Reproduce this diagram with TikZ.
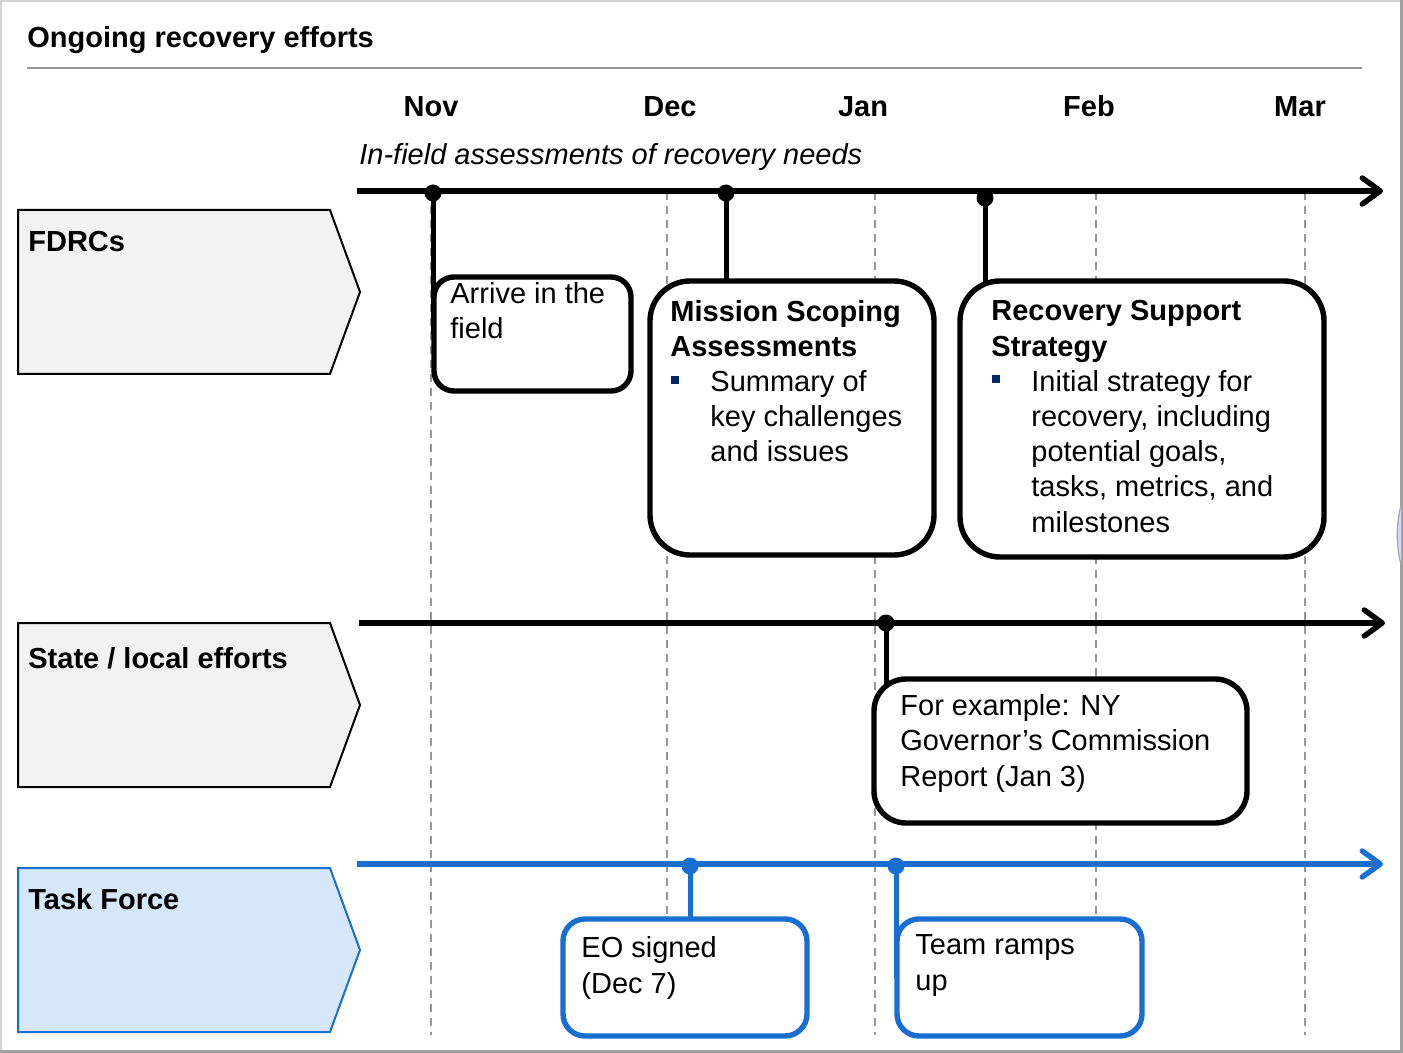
\documentclass[tikz,border=0pt]{standalone}
\usepackage{fontspec}
\setmainfont{Liberation Sans}
\usetikzlibrary{arrows.meta}
\definecolor{tfblue}{RGB}{25,110,210}
\definecolor{tflight}{RGB}{214,230,251}
\definecolor{lanegray}{RGB}{242,242,242}
\definecolor{navy}{RGB}{0,40,104}
\definecolor{gridgray}{RGB}{150,150,150}
\newcommand{\bulmark}{\makebox[20pt][l]{\hspace{0.5pt}\raisebox{4pt}{\textcolor{navy}{\rule{4pt}{4pt}}}}}
\newcommand{\bulind}{\hspace*{20pt}}
\begin{document}
\begin{tikzpicture}[x=0.5pt,y=-0.5pt,
 txt/.style={inner sep=0pt, anchor=base west, align=left, font=\fontsize{14.5pt}{17.6pt}\selectfont},
 month/.style={inner sep=0pt, anchor=base, font=\fontsize{14.5pt}{17.6pt}\selectfont\bfseries},
 lane/.style={line width=1pt, draw=black, fill=lanegray},
 tflane/.style={line width=1pt, draw=tfblue, fill=tflight},
 gridline/.style={gridgray, line width=0.8pt, dash pattern=on 4pt off 3pt},
 timeline/.style={line width=2.7pt, -{Straight Barb[length=9pt,width=13pt,round]}},
 conn/.style={line width=2.5pt},
 dot/.style={circle, fill, inner sep=0pt, minimum size=8.5pt},
 evbox/.style={draw, fill=white, line width=2.7pt, rounded corners=#1, inner sep=0pt},
 evbox/.default=10pt
]
\useasboundingbox (0,0) rectangle (1403,1053);
\fill[white] (0,0) rectangle (1403,1053);
% frame
\draw[gray!35, line width=1pt] (1,1053) -- (1,1) -- (1403,1);
\draw[gray!75, line width=1.4pt] (1401.5,0) -- (1401.5,1053);
\draw[gray!75, line width=1.4pt] (0,1051.5) -- (1403,1051.5);
\draw[gray!70, line width=0.6pt, fill={rgb,255:red,205;green,215;blue,255}] (1401,505) .. controls (1396,525) and (1396,545) .. (1401,565);

% title
\node[txt, font=\fontsize{14.5pt}{17.6pt}\selectfont\bfseries] (title) at (27,48) {Ongoing recovery efforts};
\draw[gridgray, line width=1pt] (27,68) -- (1362,68);

% months
\node[month] (nov) at (431,117) {Nov};
\node[month] (dec) at (670,117) {Dec};
\node[month] (jan) at (863,117) {Jan};
\node[month] (feb) at (1089,117) {Feb};
\node[month] (mar) at (1300,117) {Mar};
\node[txt, font=\fontsize{14.5pt}{17.6pt}\selectfont\itshape] (infield) at (359,165) {In-field assessments of recovery needs};

% grid lines
\foreach \gx in {431,667,875,1096,1305}{
  \draw[gridline] (\gx,192) -- (\gx,1035);
}

% lanes
\draw[lane] (18,210) -- (330,210) -- (360,292) -- (330,374) -- (18,374) -- cycle;
\draw[lane] (18,623) -- (330,623) -- (360,705) -- (330,787) -- (18,787) -- cycle;
\draw[tflane] (18,868) -- (330,868) -- (360,950) -- (330,1032) -- (18,1032) -- cycle;
\node[txt, font=\fontsize{14.5pt}{17.6pt}\selectfont\bfseries] (lfdrc) at (28,252) {FDRCs};
\node[txt, font=\fontsize{14.5pt}{17.6pt}\selectfont\bfseries] (lstate) at (28,668) {State / local efforts};
\node[txt, font=\fontsize{14.5pt}{17.6pt}\selectfont\bfseries] (ltf) at (28,909) {Task Force};

% timelines
\coordinate (s1) at (357,191); \coordinate (e1) at (1383,191);
\coordinate (s2) at (359,623); \coordinate (e2) at (1385,623);
\coordinate (s3) at (357,864); \coordinate (e3) at (1383,864);
\draw[timeline] (s1) -- (e1);
\draw[timeline] (s2) -- (e2);
\draw[timeline, tfblue] (s3) -- (e3);

% event boxes (positions)
\coordinate (c1) at (532.5,334);
\coordinate (c2) at (792,418);
\coordinate (c3) at (1142,419);
\coordinate (c4) at (1060.5,751);
\coordinate (c5) at (685,977.5);
\coordinate (c6) at (1019.5,977.5);

% dots
\node[dot] (d1) at (433,193) {};
\node[dot] (d2) at (726,193) {};
\node[dot] (d3) at (985,198) {};
\node[dot] (d4) at (886,623) {};
\node[dot, tfblue] (d5) at (690,866) {};
\node[dot, tfblue] (d6) at (896,866) {};

% connectors
\draw[conn] (d1.center) -- (d1.center |- c1);
\draw[conn] (d2.center) -- (d2.center |- c2);
\draw[conn] (d3.center) -- (d3.center |- c3);
\draw[conn] (d4.center) -- (d4.center |- c4);
\draw[conn, tfblue] (d5.center) -- (d5.center |- c5);
\draw[conn, tfblue] (d6.center) -- (d6.center |- c6);

% boxes
\node[evbox=10pt, minimum width=98.5pt, minimum height=57pt] (b1) at (c1) {};
\node[evbox=20pt, minimum width=142pt, minimum height=137pt] (b2) at (c2) {};
\node[evbox=20pt, minimum width=182pt, minimum height=138pt] (b3) at (c3) {};
\node[evbox=16pt, minimum width=186.5pt, minimum height=72pt] (b4) at (c4) {};
\node[evbox=11pt, draw=tfblue, minimum width=122pt, minimum height=58.5pt] (b5) at (c5) {};
\node[evbox=11pt, draw=tfblue, minimum width=122.5pt, minimum height=58.5pt] (b6) at (c6) {};

% box texts (anchored at the baseline of their last line)
\node[txt] (t1) at (450,339) {Arrive in the\\field};
\node[txt] (t2) at (670,462) {\textbf{Mission Scoping}\\\textbf{Assessments}\\\bulmark Summary of\\\bulind key challenges\\\bulind and issues};
\node[txt] (t3) at (991,532) {\textbf{Recovery Support}\\\textbf{Strategy}\\\bulmark Initial strategy for\\\bulind recovery, including\\\bulind potential goals,\\\bulind tasks, metrics, and\\\bulind milestones};
\node[txt] (t4) at (900,786) {For example: NY\\Governor’s Commission\\Report (Jan 3)};
\node[txt] (t5) at (581,993) {EO signed\\(Dec 7)};
\node[txt] (t6) at (915,990) {Team ramps\\up};
\end{tikzpicture}
\end{document}
